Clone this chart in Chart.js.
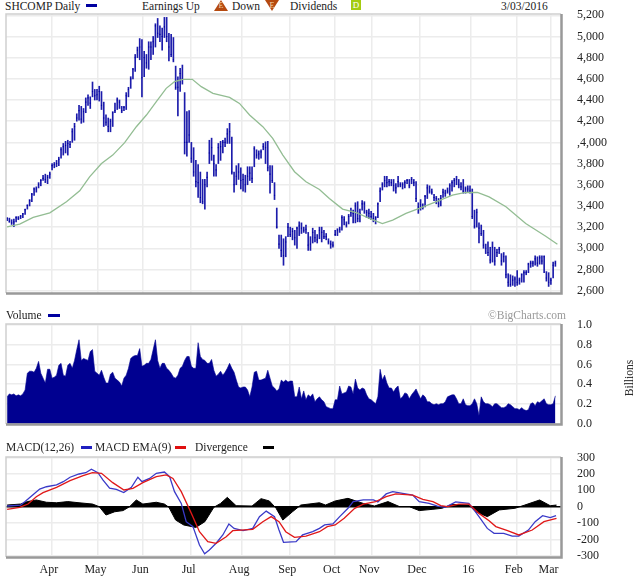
<!DOCTYPE html>
<html>
<head>
<meta charset="utf-8">
<title>SHCOMP Daily</title>
<script src="https://cdn.jsdelivr.net/npm/chart.js@4"></script>
<style>
html, body { margin: 0; padding: 0; background: #fff; }
body { width: 640px; height: 576px; position: relative; overflow: hidden; font: 11.5px "Liberation Serif", serif; color: #222; }
canvas { position: absolute; left: 0; }
.t { position: absolute; white-space: nowrap; line-height: 12px; }
.s { position: absolute; height: 3px; }
.up, .down { position: absolute; width: 14px; height: 11px; background: #b5490f; color: #f3d9b0; font-size: 8px; line-height: 11px; text-align: center; }
.up { clip-path: polygon(50% 0, 100% 100%, 0 100%); }
.down { clip-path: polygon(0 0, 100% 0, 50% 100%); }
.d { position: absolute; left: 351px; top: 0; width: 10px; height: 10px; background: #a4cc10; color: #fff; font-size: 9px; line-height: 10px; text-align: center; }
</style>
</head>
<body>
<div class="t" style="left:5px;top:0">SHCOMP Daily</div>
<div class="s" style="left:86px;top:4px;width:11px;background:#0000a0"></div>
<div class="t" style="left:142px;top:0">Earnings Up</div>
<div class="up" style="left:214px;top:0">E</div>
<div class="t" style="left:232px;top:0">Down</div>
<div class="down" style="left:265px;top:0">E</div>
<div class="t" style="left:290px;top:0">Dividends</div>
<div class="d">D</div>
<div class="t" style="left:501px;top:0">3/03/2016</div>
<canvas id="price" width="640" height="300" style="top:0"></canvas>
<canvas id="volume" width="640" height="125" style="top:310px"></canvas>
<canvas id="macd" width="640" height="131" style="top:445px"></canvas>
<div class="t" style="left:6px;top:309px">Volume</div>
<div class="s" style="left:48px;top:314px;width:12px;background:#0000a0"></div>
<div class="t" style="left:488px;top:309px;color:#999">©BigCharts.com</div>
<div class="t" style="left:6px;top:441px">MACD(12,26)</div>
<div class="s" style="left:81px;top:446px;width:11px;background:#2020c0"></div>
<div class="t" style="left:95px;top:441px">MACD EMA(9)</div>
<div class="s" style="left:175px;top:446px;width:11px;background:#e01010"></div>
<div class="t" style="left:195px;top:441px">Divergence</div>
<div class="s" style="left:263px;top:446px;width:11px;background:#000"></div>
<div class="t" style="left:609px;top:372px;width:40px;text-align:center;transform:rotate(-90deg)">Billions</div>
<script>
// month ticks, in trading days from the first bar
const monthDays = [19.7, 40.4, 60.4, 81.9, 104.4, 125.8, 145.6, 162.2, 183.5, 206.3, 226.6, 242.1];
const monthLabels = ['Apr', 'May', 'Jun', 'Jul', 'Aug', 'Sep', 'Oct', 'Nov', 'Dec', '16', 'Feb', 'Mar'];

const priceTicks = [5200, 5000, 4800, 4600, 4400, 4200, 4000, 3800, 3600, 3400, 3200, 3000, 2800, 2600];
const priceLabels = ['5,200', '5,000', '4,800', '4,600', '4,400', '4,200', ',4,000', '3,800', '3,600', '3,400', '3,200', '3,000', '2,800', '2,600'];
const volumeTicks = [1.0, 0.8, 0.6, 0.4, 0.2, 0.0];
const volumeLabels = ['1.0', '0.8', '0.6', '0.4', '0.2', '0.0'];
const macdTicks = [300, 200, 100, 0, -100, -200, -300];

// daily bars
const highs = [
  3290, 3285, 3270, 3275, 3300, 3300, 3310, 3330, 3370, 3410,
  3460, 3520, 3570, 3580, 3620, 3650, 3690, 3700, 3690, 3720,
  3800, 3810, 3830, 3860, 3950, 3990, 4010, 4020, 4010, 4130,
  4180, 4270, 4350, 4340, 4320, 4420, 4450, 4430, 4570, 4500,
  4500, 4530, 4480, 4380, 4260, 4230, 4220, 4290, 4370, 4420,
  4400, 4340, 4340, 4470, 4520, 4620, 4700, 4830, 4900, 4980,
  4970, 4860, 4830, 4950, 4950, 5000, 5120, 5170, 5100, 5080,
  5180, 5180, 5030, 5020, 4990, 4720, 4620, 4700, 4730, 4470,
  4290, 4300, 4000, 3950, 3830, 3790, 3720, 3650, 3650, 3720,
  4020, 4040, 3880, 3790, 3990, 4010, 4020, 4040, 4130, 4180,
  4050, 3720, 3780, 3800, 3760, 3700, 3690, 3770, 3770, 3770,
  3960, 3930, 3920, 3930, 3990, 4005, 4010, 3780, 3780, 3620,
  3380, 3125, 3125, 3090, 3110, 3235, 3200, 3190, 3170, 3200,
  3250, 3240, 3200, 3220, 3150, 3110, 3190, 3170, 3130, 3200,
  3200, 3170, 3140, 3090, 3070, 3060, 3170, 3185, 3200, 3310,
  3300, 3250, 3320, 3380, 3360, 3430, 3440, 3370, 3450, 3440,
  3360, 3370, 3350, 3330, 3300, 3430, 3570, 3620, 3680, 3680,
  3650, 3650, 3650, 3610, 3680, 3620, 3620, 3640, 3650, 3650,
  3670, 3650, 3630, 3430, 3460, 3420, 3500, 3600, 3590, 3560,
  3510, 3490, 3470, 3500, 3560, 3550, 3570, 3610, 3640, 3660,
  3680, 3650, 3620, 3650, 3580, 3590, 3590, 3560, 3360, 3370,
  3240, 3220, 3170, 3040, 3060, 3010, 3060, 3010, 2990, 3010,
  2950, 2960, 2930, 2760, 2750, 2740, 2730, 2790, 2720, 2760,
  2790, 2790, 2860, 2880, 2880, 2930, 2920, 2930, 2930, 2930,
  2780, 2770, 2720, 2870, 2880
];
const lows = [
  3260, 3245, 3225, 3205, 3250, 3270, 3280, 3290, 3320, 3370,
  3400, 3440, 3500, 3530, 3570, 3590, 3640, 3620, 3610, 3660,
  3740, 3760, 3770, 3780, 3850, 3880, 3900, 3880, 3950, 4000,
  4020, 4200, 4210, 4180, 4190, 4280, 4350, 4320, 4430, 4400,
  4400, 4390, 4310, 4150, 4160, 4100, 4100, 4150, 4280, 4310,
  4320, 4280, 4300, 4310, 4430, 4510, 4600, 4670, 4800, 4780,
  4430, 4620, 4700, 4690, 4780, 4830, 4900, 4990, 4950, 4870,
  4990, 4950, 4770, 4810, 4760, 4500, 4250, 4480, 4550, 3890,
  3870, 4000, 3810, 3680, 3580, 3480, 3430, 3420, 3370, 3580,
  3800, 3830, 3680, 3680, 3800, 3830, 3900, 3960, 3990, 3990,
  3700, 3530, 3600, 3650, 3560, 3540, 3530, 3600, 3640, 3620,
  3770, 3850, 3840, 3850, 3930, 3800, 3730, 3520, 3620, 3460,
  3190, 3000, 2920, 2840, 2920, 3110, 3110, 3080, 3030, 3000,
  3120, 3140, 3150, 3140, 2980, 2980, 3050, 3060, 3050, 3090,
  3060, 3090, 3080, 3040, 3000, 3010, 3120, 3120, 3150, 3170,
  3220, 3200, 3230, 3300, 3240, 3240, 3250, 3250, 3360, 3330,
  3290, 3280, 3270, 3250, 3230, 3290, 3440, 3550, 3580, 3580,
  3590, 3590, 3540, 3520, 3580, 3580, 3560, 3570, 3610, 3570,
  3610, 3590, 3440, 3330, 3360, 3370, 3390, 3470, 3520, 3510,
  3450, 3420, 3390, 3400, 3480, 3490, 3520, 3500, 3540, 3580,
  3600, 3570, 3550, 3520, 3520, 3530, 3520, 3280, 3190, 3200,
  3050, 3120, 3000, 2950, 2930, 2860, 2870, 2840, 2920, 2950,
  2840, 2870, 2720, 2640, 2640, 2650, 2640, 2650, 2660, 2680,
  2680, 2750, 2770, 2820, 2830, 2840, 2830, 2850, 2850, 2770,
  2690, 2640, 2660, 2720, 2830
];
const closes = [
  3280, 3255, 3240, 3250, 3290, 3285, 3305, 3325, 3365, 3405,
  3450, 3510, 3560, 3560, 3600, 3640, 3660, 3650, 3670, 3700,
  3780, 3790, 3800, 3840, 3930, 3960, 3970, 3990, 3980, 4100,
  4150, 4230, 4300, 4220, 4290, 4380, 4420, 4370, 4480, 4440,
  4450, 4480, 4350, 4230, 4190, 4150, 4200, 4280, 4300, 4400,
  4380, 4300, 4330, 4440, 4500, 4600, 4690, 4800, 4870, 4900,
  4610, 4800, 4750, 4900, 4900, 4950, 5100, 5030, 5020, 5000,
  5090, 5000, 4900, 4830, 4780, 4520, 4520, 4650, 4600, 4000,
  4000, 4070, 3850, 3720, 3630, 3620, 3480, 3440, 3600, 3670,
  3900, 3950, 3800, 3740, 3950, 3960, 4000, 4000, 4080, 4100,
  3720, 3600, 3680, 3720, 3640, 3650, 3600, 3680, 3710, 3660,
  3940, 3880, 3890, 3910, 3960, 3950, 3760, 3700, 3640, 3500,
  3200, 3040, 2980, 2930, 3060, 3200, 3130, 3160, 3100, 3190,
  3210, 3190, 3170, 3180, 3030, 3040, 3150, 3100, 3080, 3170,
  3150, 3110, 3110, 3060, 3040, 3030, 3130, 3170, 3180, 3290,
  3270, 3220, 3300, 3340, 3330, 3400, 3280, 3330, 3420, 3420,
  3340, 3330, 3300, 3280, 3290, 3420, 3540, 3600, 3640, 3620,
  3630, 3620, 3590, 3570, 3630, 3600, 3600, 3620, 3640, 3590,
  3650, 3620, 3470, 3390, 3410, 3390, 3490, 3570, 3540, 3530,
  3480, 3470, 3420, 3470, 3530, 3520, 3540, 3590, 3620, 3640,
  3650, 3600, 3580, 3540, 3560, 3560, 3540, 3300, 3210, 3340,
  3190, 3140, 3030, 3000, 2960, 2890, 3010, 2880, 2960, 2990,
  2880, 2920, 2750, 2680, 2660, 2700, 2710, 2680, 2700, 2750,
  2770, 2770, 2850, 2860, 2860, 2900, 2860, 2910, 2880, 2920,
  2720, 2680, 2700, 2840, 2860
];

// moving average
const maDays = [0, 5.6, 11.6, 19, 26.4, 32.3, 36.7, 42, 47, 52.3, 57.5, 62, 66.4, 70.8, 74.5, 78.2, 82.4, 86.4, 91.6, 99, 103.4, 107.9, 113.8, 118.2, 122.7, 127.9, 133, 139, 143.4, 149.3, 155.3, 161.2, 167, 171.6, 177.5, 183.4, 190.8, 198.2, 204, 209.3, 214.5, 222, 230.8, 239.7, 244.9];
const maValues = [3203, 3228, 3291, 3335, 3439, 3543, 3675, 3801, 3880, 3997, 4148, 4258, 4384, 4510, 4573, 4595, 4595, 4526, 4463, 4425, 4368, 4258, 4148, 4038, 3880, 3723, 3628, 3556, 3471, 3370, 3338, 3282, 3234, 3266, 3329, 3376, 3439, 3502, 3527, 3527, 3486, 3392, 3234, 3114, 3039];

// volume, billions
const volumes = [
  .27, .30, .29, .30, .28, .29, .28, .30, .34, .51,
  .53, .53, .52, .56, .63, .51, .46, .41, .55, .55,
  .46, .47, .49, .59, .61, .49, .48, .59, .61, .56,
  .64, .75, .85, .64, .66, .65, .64, .73, .75, .53,
  .51, .49, .54, .47, .41, .41, .50, .52, .46, .44,
  .42, .38, .46, .49, .56, .66, .68, .69, .69, .76,
  .58, .59, .61, .61, .65, .75, .85, .64, .56, .61,
  .61, .56, .54, .51, .47, .46, .49, .56, .58, .64,
  .68, .68, .58, .56, .56, .82, .68, .65, .64, .61,
  .61, .65, .54, .48, .50, .53, .49, .52, .56, .61,
  .56, .52, .44, .37, .36, .37, .37, .34, .27, .37,
  .52, .53, .44, .44, .45, .46, .54, .46, .38, .36,
  .33, .35, .44, .42, .44, .42, .43, .43, .27, .27,
  .37, .25, .33, .24, .29, .27, .30, .22, .25, .27,
  .24, .22, .17, .16, .15, .15, .24, .24, .38, .30,
  .31, .32, .38, .37, .30, .45, .36, .34, .36, .35,
  .29, .25, .24, .22, .20, .27, .55, .44, .49, .41,
  .36, .36, .32, .36, .38, .25, .27, .31, .30, .25,
  .29, .32, .35, .30, .25, .29, .27, .22, .22, .20,
  .19, .20, .19, .20, .20, .22, .27, .28, .29, .29,
  .25, .20, .20, .25, .19, .18, .18, .20, .25, .20,
  .08, .27, .22, .20, .20, .19, .17, .20, .20, .18,
  .16, .16, .17, .20, .19, .17, .15, .15, .14, .16,
  .14, .13, .14, .20, .21, .18, .22, .21, .23, .25,
  .20, .19, .19, .20, .28
];

// MACD panel
const macdDays = [0, 6, 8, 11, 14.5, 17.5, 22, 25, 28, 32, 35, 37.5, 40.4, 42.7, 45.6, 48.6, 51.9, 55.3, 58.2, 60, 63.4, 66.4, 70, 72.3, 74.5, 77.5, 79.7, 82.7, 85.6, 87.9, 90, 93, 96, 98.7, 101, 105, 109.3, 112.3, 115.3, 119, 121, 123, 128.6, 131.5, 136, 139, 141.3, 145, 148, 151.7, 154, 158.5, 163, 165, 168.7, 171.6, 176, 180.5, 183.4, 187.8, 191.5, 195, 199.6, 205.5, 207.8, 210, 213.7, 216.7, 221, 224.8, 227.7, 232, 235, 238.3, 241.7, 244.3];
const macdValues = [4, 10, 31, 67, 108, 122, 133, 153, 180, 200, 208, 229, 208, 163, 114, 106, 86, 118, 180, 153, 173, 204, 212, 184, 92, 20, -92, -122, -235, -288, -265, -224, -173, -106, -133, -147, -133, -61, -27, -61, -143, -218, -214, -173, -153, -133, -112, -106, -61, -10, 31, 41, 41, 29, 78, 92, 82, 71, 31, 20, 4, -4, 29, 20, -20, -61, -133, -163, -163, -180, -180, -143, -92, -55, -67, -55];
const emaDays = [0, 5.6, 9.3, 13, 16, 22, 28, 33.8, 38, 42, 47, 52, 56, 60.4, 66.4, 70.8, 73.8, 77.5, 82, 85.6, 89.3, 93, 97.5, 100.4, 109.3, 113.8, 117.5, 121, 124, 127.9, 133, 139, 142.5, 146, 150, 154.7, 158.5, 164, 168.7, 173, 180.5, 185, 189.5, 193, 196, 201, 205.5, 210, 214.5, 217.5, 222.7, 227.7, 233.7, 238.9, 244.5];
const emaValues = [-16, -4, 16, 61, 86, 118, 159, 190, 208, 204, 147, 102, 112, 147, 184, 194, 173, 92, -41, -153, -214, -224, -184, -147, -139, -92, -61, -92, -153, -188, -180, -153, -122, -112, -71, -10, 16, 31, 61, 78, 71, 45, 31, 6, 0, 16, 16, -41, -86, -122, -147, -173, -143, -92, -71];
const divDays = [0, 6, 9, 13, 17.5, 22, 27, 32, 38, 41, 44, 47.9, 51.6, 54.5, 57.5, 60.4, 66.4, 70, 72, 75, 78.6, 84, 88, 92, 95, 98, 101.9, 109, 113, 116.7, 119.7, 122.7, 127, 130.7, 139, 141.7, 146, 151.7, 158.5, 163.5, 169.5, 174.7, 179, 183.4, 189.5, 193.5, 198, 205.5, 208.5, 213.7, 219, 226, 230.4, 237, 241.7, 244.5];
const divValues = [10, 16, 31, 41, 27, 24, 31, 24, 16, 0, -51, -31, -24, 0, 41, 16, 27, 16, -4, -82, -112, -127, -92, -4, 20, 57, 6, 4, 49, 35, -10, -82, -31, 10, 24, 10, 35, 51, 20, 4, 31, 0, 0, -24, -16, -10, 14, 10, -31, -61, -20, -10, 10, 41, 6, 10];

const font = { family: '"Liberation Serif", serif', size: 12 };
const textColor = '#222';
const gridColor = '#ececec';

// same plot frame on all three panels: light top/left, heavy bottom/right
const framePlugin = {
  id: 'frame',
  afterDraw(chart) {
    const a = chart.chartArea, c = chart.ctx;
    c.save();
    c.strokeStyle = '#cfcfcf';
    c.lineWidth = 1.5;
    c.beginPath();
    c.moveTo(a.left, a.bottom);
    c.lineTo(a.left, a.top);
    c.lineTo(a.right, a.top);
    c.stroke();
    c.strokeStyle = '#999';
    c.lineWidth = 2.5;
    c.beginPath();
    c.moveTo(a.left, a.bottom + 0.5);
    c.lineTo(a.right + 0.5, a.bottom + 0.5);
    c.lineTo(a.right + 0.5, a.top);
    c.stroke();
    c.restore();
  }
};

function xy(xs, ys) {
  return xs.map((x, i) => ({ x: x, y: ys[i] }));
}

function xScale(showLabels) {
  return {
    type: 'linear',
    min: -0.5,
    max: 246.5,
    offset: false,
    border: { display: false },
    grid: { offset: false, color: gridColor, lineWidth: 1.5, drawTicks: false },
    afterBuildTicks: s => { s.ticks = monthDays.map(v => ({ value: v })); },
    afterFit: s => { s.height = showLabels ? 19 : 0; },
    ticks: {
      display: showLabels,
      autoSkip: false,
      maxRotation: 0,
      padding: 6,
      labelOffset: -2.5,
      color: textColor,
      font: font,
      callback: v => monthLabels[monthDays.indexOf(v)]
    }
  };
}

function yScale(min, max, ticks, labels) {
  return {
    position: 'right',
    min: min,
    max: max,
    border: { display: false },
    grid: {
      drawTicks: false,
      lineWidth: 1.5,
      color: ctx => (labels === null && ctx.tick.value === 0) ? '#000' : gridColor
    },
    afterBuildTicks: s => { s.ticks = ticks.map(v => ({ value: v })); },
    afterFit: s => {
      s.width = 79;
      // ticks.padding would otherwise be added above and below the plot
      s.paddingTop = 0;
      s.paddingBottom = 0;
    },
    ticks: {
      autoSkip: false,
      padding: 16,
      color: textColor,
      font: font,
      callback: v => labels ? labels[ticks.indexOf(v)] : String(v)
    }
  };
}

function baseOptions(padding, x, y) {
  return {
    responsive: false,
    animation: false,
    devicePixelRatio: 1,
    layout: { autoPadding: false, padding: padding },
    plugins: { legend: { display: false }, tooltip: { enabled: false } },
    scales: { x: x, y: y }
  };
}

const days = highs.map((_, i) => i);

new Chart(document.getElementById('price').getContext('2d'), {
  type: 'bar',
  data: {
    datasets: [
      {
        type: 'line',
        data: xy(maDays, maValues),
        borderColor: '#93bd93',
        borderWidth: 1.3,
        pointRadius: 0,
        order: 1
      },
      {
        type: 'line',
        data: xy(days, closes),
        showLine: false,
        pointStyle: 'rect',
        pointRadius: 0.8,
        pointBorderWidth: 0,
        pointBackgroundColor: '#0000a0',
        order: 2
      },
      {
        data: days.map(d => ({ x: d, y: [lows[d], highs[d]] })),
        backgroundColor: '#1c1cab',
        barThickness: 1,
        order: 3
      }
    ]
  },
  options: baseOptions({ left: 6, top: 14, bottom: 7 }, xScale(false), yScale(2578, 5212, priceTicks, priceLabels)),
  plugins: [framePlugin]
});

new Chart(document.getElementById('volume').getContext('2d'), {
  type: 'line',
  data: {
    datasets: [{
      data: xy(days, volumes),
      borderColor: '#000090',
      borderWidth: 0.6,
      backgroundColor: '#000090',
      fill: 'origin',
      pointRadius: 0
    }]
  },
  options: baseOptions({ left: 6, top: 14, bottom: 11 }, xScale(false), yScale(-0.006, 1.01, volumeTicks, volumeLabels)),
  plugins: [framePlugin]
});

new Chart(document.getElementById('macd').getContext('2d'), {
  type: 'line',
  data: {
    datasets: [
      {
        data: xy(emaDays, emaValues),
        borderColor: '#e01818',
        borderWidth: 1.3,
        pointRadius: 0,
        order: 1
      },
      {
        data: xy(macdDays, macdValues),
        borderColor: '#3a3ac8',
        borderWidth: 1.3,
        pointRadius: 0,
        order: 2
      },
      {
        data: xy(divDays, divValues),
        borderColor: '#000',
        borderWidth: 1,
        backgroundColor: '#000',
        fill: 'origin',
        pointRadius: 0,
        order: 3
      }
    ]
  },
  options: baseOptions({ left: 6, top: 12 }, xScale(true), yScale(-308, 304, macdTicks, null)),
  plugins: [framePlugin]
});
</script>
</body>
</html>
